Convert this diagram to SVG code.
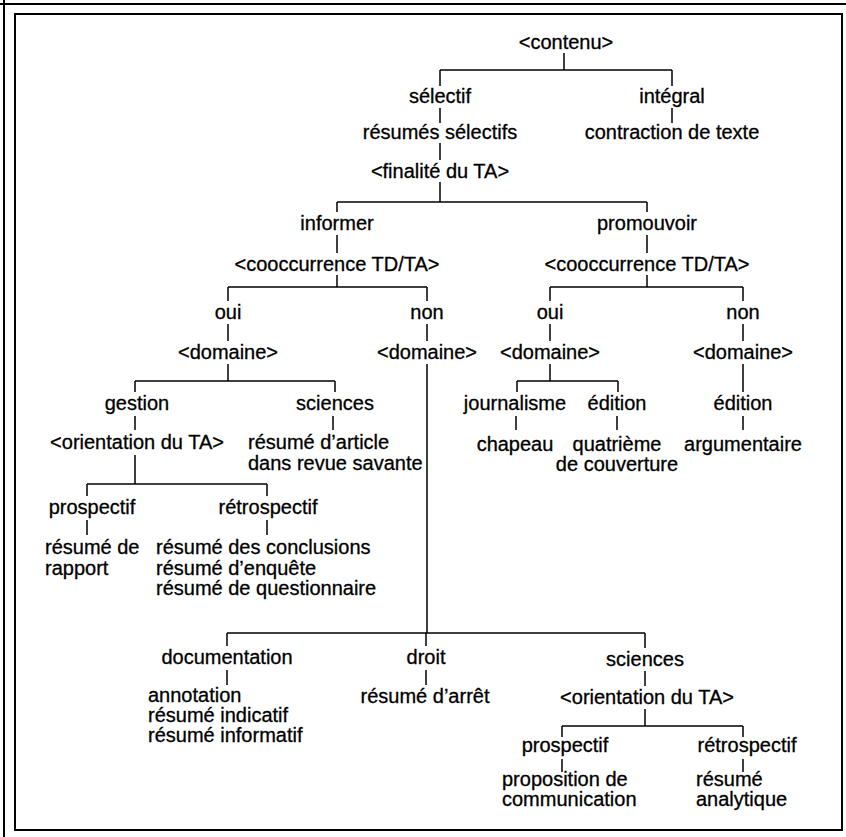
<svg xmlns="http://www.w3.org/2000/svg" width="846" height="837" viewBox="0 0 846 837">
<style>
text{font-family:"Liberation Sans",Arial,sans-serif;font-size:20px;fill:#000;stroke:#000;stroke-width:0.3}
.m{text-anchor:middle}
.l{text-anchor:start}
.c line{stroke:#000;stroke-width:1.5}
.f{fill:none;stroke:#000;stroke-width:2}
</style>
<rect width="846" height="837" fill="#fff"/>
<g id="frame">
<line class="f" x1="0" y1="4" x2="846" y2="4"/>
<line class="f" x1="4" y1="0" x2="4" y2="837"/>
<rect class="f" x="15" y="14" width="827" height="816"/>
</g>
<g class="c" id="connectors">
<line x1="564" y1="53" x2="564" y2="70"/>
<line x1="440" y1="70" x2="672" y2="70"/>
<line x1="440" y1="70" x2="440" y2="86"/>
<line x1="672" y1="70" x2="672" y2="86"/>
<line x1="440" y1="108" x2="440" y2="123"/>
<line x1="672" y1="108" x2="672" y2="123"/>
<line x1="440" y1="143" x2="440" y2="160"/>
<line x1="440" y1="182" x2="440" y2="202"/>
<line x1="337" y1="202" x2="647" y2="202"/>
<line x1="337" y1="202" x2="337" y2="212"/>
<line x1="647" y1="202" x2="647" y2="212"/>
<line x1="337" y1="235" x2="337" y2="253"/>
<line x1="647" y1="235" x2="647" y2="253"/>
<line x1="337" y1="275" x2="337" y2="287"/>
<line x1="647" y1="275" x2="647" y2="287"/>
<line x1="228" y1="287" x2="427" y2="287"/>
<line x1="550" y1="287" x2="743" y2="287"/>
<line x1="228" y1="287" x2="228" y2="301"/>
<line x1="427" y1="287" x2="427" y2="301"/>
<line x1="550" y1="287" x2="550" y2="301"/>
<line x1="743" y1="287" x2="743" y2="301"/>
<line x1="228" y1="324" x2="228" y2="341"/>
<line x1="427" y1="324" x2="427" y2="341"/>
<line x1="550" y1="324" x2="550" y2="341"/>
<line x1="743" y1="324" x2="743" y2="341"/>
<line x1="228" y1="364" x2="228" y2="381"/>
<line x1="135" y1="381" x2="335" y2="381"/>
<line x1="135" y1="381" x2="135" y2="392"/>
<line x1="335" y1="381" x2="335" y2="392"/>
<line x1="427" y1="364" x2="427" y2="633"/>
<line x1="550" y1="364" x2="550" y2="381"/>
<line x1="517" y1="381" x2="618" y2="381"/>
<line x1="517" y1="381" x2="517" y2="392"/>
<line x1="618" y1="381" x2="618" y2="392"/>
<line x1="743" y1="364" x2="743" y2="392"/>
<line x1="135" y1="416" x2="135" y2="430"/>
<line x1="333" y1="416" x2="333" y2="430"/>
<line x1="516" y1="416" x2="516" y2="430"/>
<line x1="617" y1="416" x2="617" y2="430"/>
<line x1="743" y1="416" x2="743" y2="430"/>
<line x1="135" y1="455" x2="135" y2="484"/>
<line x1="87" y1="484" x2="267" y2="484"/>
<line x1="87" y1="484" x2="87" y2="496"/>
<line x1="267" y1="484" x2="267" y2="496"/>
<line x1="87" y1="520" x2="87" y2="535"/>
<line x1="267" y1="520" x2="267" y2="535"/>
<line x1="227" y1="633" x2="645" y2="633"/>
<line x1="227" y1="633" x2="227" y2="646"/>
<line x1="426" y1="633" x2="426" y2="646"/>
<line x1="645" y1="633" x2="645" y2="648"/>
<line x1="227" y1="670" x2="227" y2="685"/>
<line x1="426" y1="670" x2="426" y2="685"/>
<line x1="645" y1="671" x2="645" y2="686"/>
<line x1="645" y1="709" x2="645" y2="726"/>
<line x1="562" y1="726" x2="743" y2="726"/>
<line x1="562" y1="726" x2="562" y2="737"/>
<line x1="743" y1="726" x2="743" y2="737"/>
<line x1="562" y1="759" x2="562" y2="772"/>
<line x1="743" y1="759" x2="743" y2="772"/>
</g>
<g id="n-contenu"><text class="m" x="566" y="49">&lt;contenu&gt;</text></g>
<g id="n-selectif"><text class="m" x="440" y="103">sélectif</text></g>
<g id="n-integral"><text class="m" x="672" y="103">intégral</text></g>
<g id="n-resumes-selectifs"><text class="m" x="440" y="139">résumés sélectifs</text></g>
<g id="n-contraction"><text class="m" x="672" y="139">contraction de texte</text></g>
<g id="n-finalite"><text class="m" x="440" y="178">&lt;finalité du TA&gt;</text></g>
<g id="n-informer"><text class="m" x="337" y="230">informer</text></g>
<g id="n-promouvoir"><text class="m" x="647" y="230">promouvoir</text></g>
<g id="n-cooc1"><text class="m" x="337" y="271">&lt;cooccurrence TD/TA&gt;</text></g>
<g id="n-cooc2"><text class="m" x="647" y="271">&lt;cooccurrence TD/TA&gt;</text></g>
<g id="n-oui1"><text class="m" x="228" y="319">oui</text></g>
<g id="n-non1"><text class="m" x="427" y="319">non</text></g>
<g id="n-oui2"><text class="m" x="550" y="319">oui</text></g>
<g id="n-non2"><text class="m" x="743" y="319">non</text></g>
<g id="n-dom1"><text class="m" x="228" y="359">&lt;domaine&gt;</text></g>
<g id="n-dom2"><text class="m" x="427" y="359">&lt;domaine&gt;</text></g>
<g id="n-dom3"><text class="m" x="550" y="359">&lt;domaine&gt;</text></g>
<g id="n-dom4"><text class="m" x="743" y="359">&lt;domaine&gt;</text></g>
<g id="n-gestion"><text class="m" x="137" y="410">gestion</text></g>
<g id="n-sciences1"><text class="m" x="335" y="410">sciences</text></g>
<g id="n-journalisme"><text class="m" x="515" y="410">journalisme</text></g>
<g id="n-edition1"><text class="m" x="617" y="410">édition</text></g>
<g id="n-edition2"><text class="m" x="743" y="410">édition</text></g>
<g id="n-orient1"><text class="m" x="137" y="449">&lt;orientation du TA&gt;</text></g>
<g id="n-article"><text class="l" x="248" y="449">résumé d’article</text><text class="l" x="248" y="470">dans revue savante</text></g>
<g id="n-chapeau"><text class="m" x="515" y="451">chapeau</text></g>
<g id="n-quatrieme"><text class="m" x="617" y="451">quatrième</text><text class="m" x="617" y="471">de couverture</text></g>
<g id="n-argumentaire"><text class="m" x="743" y="451">argumentaire</text></g>
<g id="n-prosp1"><text class="m" x="92" y="514">prospectif</text></g>
<g id="n-retro1"><text class="m" x="268" y="514">rétrospectif</text></g>
<g id="n-rapport"><text class="l" x="45" y="554">résumé de</text><text class="l" x="45" y="575">rapport</text></g>
<g id="n-conclusions"><text class="l" x="156" y="554">résumé des conclusions</text><text class="l" x="156" y="575">résumé d’enquête</text><text class="l" x="156" y="595">résumé de questionnaire</text></g>
<g id="n-documentation"><text class="m" x="227" y="664">documentation</text></g>
<g id="n-droit"><text class="m" x="426" y="664">droit</text></g>
<g id="n-sciences2"><text class="m" x="645" y="666">sciences</text></g>
<g id="n-annotation"><text class="l" x="148" y="702">annotation</text><text class="l" x="148" y="722">résumé indicatif</text><text class="l" x="148" y="742">résumé informatif</text></g>
<g id="n-arret"><text class="m" x="425" y="703">résumé d’arrêt</text></g>
<g id="n-orient2"><text class="m" x="647" y="704">&lt;orientation du TA&gt;</text></g>
<g id="n-prosp2"><text class="m" x="565" y="752">prospectif</text></g>
<g id="n-retro2"><text class="m" x="747" y="752">rétrospectif</text></g>
<g id="n-proposition"><text class="l" x="502" y="786">proposition de</text><text class="l" x="502" y="806">communication</text></g>
<g id="n-analytique"><text class="l" x="696" y="786">résumé</text><text class="l" x="696" y="806">analytique</text></g>
</svg>
